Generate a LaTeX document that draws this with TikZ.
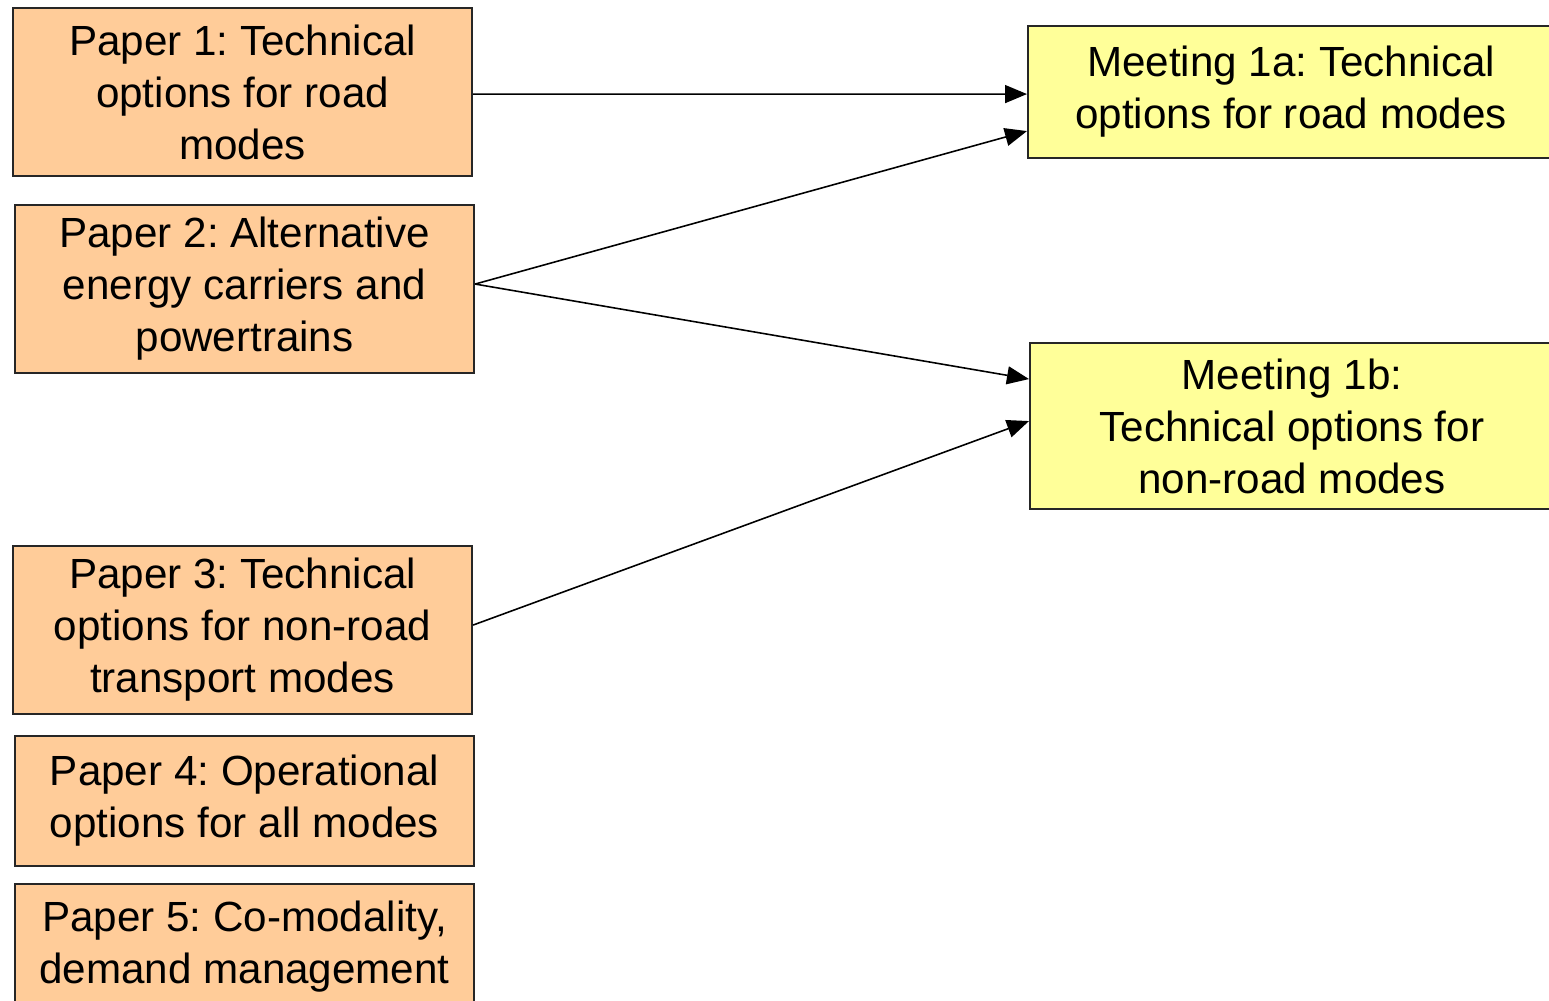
\documentclass[tikz,border=0pt]{standalone}
\usepackage{fontspec}
\setmainfont{Liberation Sans}
\usetikzlibrary{positioning,arrows.meta}
\definecolor{paperfill}{HTML}{FFCC99}
\definecolor{meetfill}{HTML}{FFFF99}
\frenchspacing
\tikzstyle{paper} = [rectangle, draw=black!85, fill=paperfill, line width=0.6pt,
                     anchor=north west, align=center, inner sep=0pt,
                     minimum width=4.59cm, font=\fontsize{12pt}{14.8pt}\selectfont]
\tikzstyle{meet}  = [paper, fill=meetfill, minimum width=5.26cm]
\tikzstyle{arrow} = [line width=0.45pt,-{Triangle[length=2.2mm,width=1.8mm]}]

\begin{document}
\begin{tikzpicture}
		\useasboundingbox (0,0) rectangle (15.49,-10.01);
		\clip (0,0) rectangle (15.49,-10.01);

		% papers
		\node[paper,minimum height=1.68cm] (p1) at (0.12,-0.07) {Paper 1: Technical\\ options for road\\ modes};
		\node[paper,minimum height=1.68cm] (p2) at (0.14,-2.04) {Paper 2: Alternative\\ energy carriers and\\ powertrains};
		\node[paper,minimum height=1.68cm] (p3) at (0.12,-5.45) {Paper 3: Technical\\ options for non-road\\ transport modes};
		\node[paper,minimum height=1.30cm] (p4) at (0.14,-7.35) {Paper 4: Operational\\ options for all modes};
		\node[paper,minimum height=1.25cm] (p5) at (0.14,-8.83) {Paper 5: Co-modality,\\ demand management};

		% meetings
		\node[meet,minimum height=1.32cm] (m1a) at (10.27,-0.25) {Meeting 1a: Technical\\ options for road modes};
		\node[meet,minimum height=1.66cm,minimum width=5.24cm] (m1b) at (10.29,-3.42) {Meeting 1b:\\ Technical options for\\ non-road modes};

		\draw[arrow] ([yshift=-0.02cm]p1.east) -- ([yshift=-0.02cm]m1a.west);
		\draw[arrow] ([yshift=0.05cm]p2.east) -- ([yshift=-0.39cm]m1a.west);
		\draw[arrow] ([yshift=0.05cm]p2.east) -- ([yshift=0.47cm]m1b.west);
		\draw[arrow] ([yshift=0.05cm]p3.east) -- ([yshift=0.05cm]m1b.west);
	\end{tikzpicture}
\end{document}
